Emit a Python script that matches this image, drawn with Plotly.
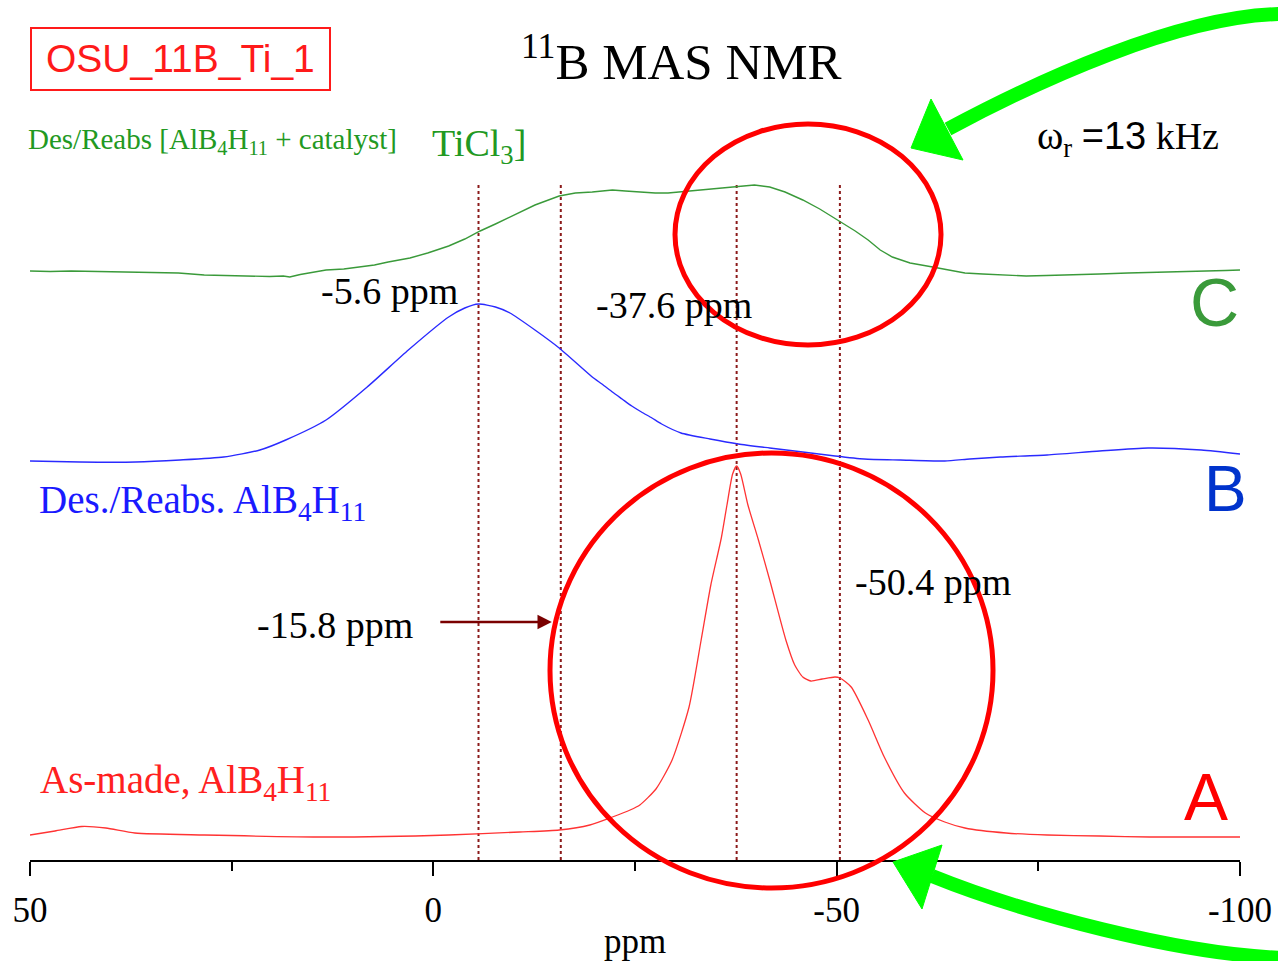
import plotly.graph_objects as go

# ---------------- data ----------------
# chemical-shift window (ppm), plotted high -> low as usual for NMR
PPM_LEFT, PPM_RIGHT = 50, -100

# A: as-made AlB4H11
ppm_a = [50.0, 46.9, 43.6, 40.6, 37.0, 28.4, 13.3, -1.9, -10.7, -15.6, -19.4, -22.2,
         -24.4, -25.6, -27.6, -29.6, -31.7, -33.2, -34.4, -35.7, -36.4, -37.1, -37.6,
         -38.1, -39.0, -40.3, -41.7, -43.7, -44.8, -45.8, -46.8, -48.2, -49.8, -50.4,
         -51.8, -53.9, -55.9, -58.4, -61.0, -63.4, -65.9, -71.0, -76.1, -82.6, -88.8, -100.0]
int_a = [0, 4, 8.5, 7, 2, 0, -2, 0, 3, 5, 10, 18,
         25, 30, 46, 75, 128, 195, 250, 297, 330, 361, 369,
         361, 330, 295, 255, 195, 170, 158, 154, 156, 158, 157,
         148, 115, 78, 42, 22, 13, 7, 2, 0, -1, -2, -2]

# B: desorbed / reabsorbed AlB4H11
ppm_b = [50.0, 43.8, 36.9, 31.4, 26.0, 21.5, 18.3, 13.3, 8.2, 3.1, -1.9, -3.9, -5.6,
         -7.7, -9.5, -12.6, -15.6, -19.7, -20.9, -22.2, -23.4, -24.6, -25.8, -27.1,
         -28.3, -30.7, -34.3, -37.8, -41.7, -45.8, -49.8, -53.4, -57.9, -63.4, -66.5,
         -70.3, -76.1, -82.6, -88.6, -95.2, -100.0]
int_b = [0, -1, -1, 1, 4, 11, 21, 41, 74, 111, 144, 153, 157,
         154, 148, 131, 113, 84, 77, 69, 62, 55, 49, 43,
         37, 28, 22, 17, 13, 9, 5, 2, 1, 0, 2,
         4, 6, 10, 13, 11, 7]

# C: desorbed / reabsorbed AlB4H11 + TiCl3 catalyst
ppm_c = [50.0, 47.5, 44.9, 41.3, 38.2, 35.1, 31.6, 28.4, 25.3, 22.4, 20.3, 18.6,
         17.8, 16.5, 13.3, 11.1, 9.1, 7.3, 5.6, 2.9, 0.7, -1.9, -3.9, -5.8, -7.7,
         -9.5, -12.6, -15.6, -17.6, -19.7, -22.2, -23.8, -25.6, -27.5, -29.1, -31.8,
         -34.3, -36.1, -37.8, -39.8, -41.7, -43.6, -45.8, -47.9, -50.3, -52.3, -53.9,
         -55.4, -56.9, -59.1, -61.9, -63.8, -65.9, -68.1, -70.3, -73.5, -76.0, -78.9,
         -82.6, -86.1, -89.4, -92.6, -94.5, -96.3, -98.2, -100.0]
int_c = [0, -0.5, 0, -0.5, -1, -1, -2, -4, -4.5, -5, -5.5, -5,
         -6, -3.5, 1, 2, 4, 6, 9, 13, 18, 25, 32, 40, 47,
         54, 66, 75, 78, 79, 81, 80, 79, 78, 78, 80,
         82, 83, 84, 86, 84, 79, 71, 62, 50, 40, 31,
         21, 14, 8, 4, 1, -2, -3, -4, -5, -4.5, -4,
         -3, -2, -1.5, -1, 0, 0, 0.5, 1]

# vertical stacking offsets of the three spectra (a.u.)
offset_a, offset_b, offset_c = 25, 399, 589

# marked chemical shifts (ppm)
peak_ppm = [-5.6, -15.8, -37.6, -50.4]

# axis ticks
major_ticks = [50, 0, -50, -100]
major_labels = ["50", "0", "-50", "-100"]
minor_ticks = [25, -25, -75]

# ---------------- figure ----------------
W, H = 1278, 961
ML, MR, MT, MB = 30, 38, 0, 101
PW, PH = W - ML - MR, H - MT - MB
Y_TOP = 860  # y-axis span in a.u.

SERIF = "Liberation Serif, Times New Roman, serif"
SANS = "Liberation Sans, Arial, sans-serif"


def px(x):
    return (x - ML) / PW


def py(y):
    return (MT + PH - y) / PH


fig = go.Figure()

fig.add_trace(go.Scatter(x=ppm_c, y=[offset_c + v for v in int_c], mode="lines",
                         line=dict(color="#3a9a3a", width=1.4), hoverinfo="skip"))
fig.add_trace(go.Scatter(x=ppm_b, y=[offset_b + v for v in int_b], mode="lines",
                         line=dict(color="#2a2aff", width=1.4, shape="spline", smoothing=0.6),
                         hoverinfo="skip"))
fig.add_trace(go.Scatter(x=ppm_a, y=[offset_a + v for v in int_a], mode="lines",
                         line=dict(color="#ff3333", width=1.3, shape="spline", smoothing=0.6),
                         hoverinfo="skip"))

shapes = []
# dotted guide lines at the marked shifts
for p in peak_ppm:
    shapes.append(dict(type="line", xref="x", yref="y", x0=p, x1=p, y0=0, y1=675,
                       line=dict(color="#8b1a1a", width=2, dash="dot"), layer="below"))

# sample-ID box
shapes.append(dict(type="rect", xref="paper", yref="paper",
                   x0=px(31), x1=px(330), y0=py(28), y1=py(90),
                   line=dict(color="#ff1a1a", width=2)))

# highlight circles
shapes.append(dict(type="circle", xref="paper", yref="paper",
                   x0=px(675), x1=px(941), y0=py(124), y1=py(345),
                   line=dict(color="#ff0000", width=5)))
shapes.append(dict(type="circle", xref="paper", yref="paper",
                   x0=px(550), x1=px(993), y0=py(453), y1=py(888),
                   line=dict(color="#ff0000", width=5)))


def bez(p0, p1, p2, p3):
    pts = [(px(a), py(b)) for a, b in (p0, p1, p2, p3)]
    return "M {},{} C {},{} {},{} {},{}".format(*[c for pt in pts for c in pt])


def tri(a, b, c):
    pts = [(px(u), py(v)) for u, v in (a, b, c)]
    return "M {},{} L {},{} L {},{} Z".format(*[c for pt in pts for c in pt])


GREEN = "#00ff00"
# curved pointer, top right
shapes.append(dict(type="path", xref="paper", yref="paper",
                   path=bez((1285, 14), (1180, 14), (1032, 84), (948, 129)),
                   line=dict(color=GREEN, width=14)))
shapes.append(dict(type="path", xref="paper", yref="paper",
                   path=tri((931, 99), (963, 160), (911, 148)),
                   fillcolor=GREEN, line=dict(color=GREEN, width=1)))
# curved pointer, bottom right
shapes.append(dict(type="path", xref="paper", yref="paper",
                   path=bez((1285, 958), (1180, 955), (1021, 912), (932, 876)),
                   line=dict(color=GREEN, width=14)))
shapes.append(dict(type="path", xref="paper", yref="paper",
                   path=tri((942, 845), (922, 909), (893, 862)),
                   fillcolor=GREEN, line=dict(color=GREEN, width=1)))

ann = []


def text(x, y, s, size, color="black", family=SERIF, xanchor="left"):
    ann.append(dict(x=px(x), y=py(y), xref="paper", yref="paper", text=s, showarrow=False,
                    xanchor=xanchor, yanchor="middle",
                    font=dict(family=family, size=size, color=color)))


text(180, 59, "OSU_11B_Ti_1", 39, "#ff1a1a", SANS, "center")
text(681, 58, "<sup>11</sup>B MAS NMR", 51, "black", SERIF, "center")
text(26, 141, "Des/Reabs [AlB<sub>4</sub>H<sub>11</sub> + catalyst]", 29, "#229922")
text(430, 146, "TiCl<sub>3</sub>]", 38, "#229922")
text(1035, 138,
     "<span style='font-size:40px'>ω</span><sub>r</sub> "
     "<span style='font-family:Liberation Sans'>=13</span> kHz", 38)
text(319, 291, "-5.6 ppm", 38)
text(594, 305, "-37.6 ppm", 38)
text(853, 582, "-50.4 ppm", 38)
text(255, 625, "-15.8 ppm", 38)
text(37, 502, "Des./Reabs. AlB<sub>4</sub>H<sub>11</sub>", 39, "#1a1aff")
text(38, 782, "As-made, AlB<sub>4</sub>H<sub>11</sub>", 39, "#ff2020")
text(1214, 302, "C", 68, "#3a9a3a", SANS, "center")
text(1225, 489, "B", 64, "#0033cc", SANS, "center")
text(1206, 797, "A", 66, "#ff0000", SANS, "center")

# arrow pointing at the -15.8 ppm line
ann.append(dict(x=-15.8, y=Y_TOP - 622, xref="x", yref="y", text="", showarrow=True,
                axref="pixel", ayref="pixel", ax=-122, ay=0, arrowhead=2, arrowsize=1.1,
                arrowwidth=2.6, arrowcolor="#7a0000", standoff=9))

fig.update_layout(
    width=W, height=H, margin=dict(l=ML, r=MR, t=MT, b=MB),
    paper_bgcolor="white", plot_bgcolor="white", showlegend=False,
    shapes=shapes, annotations=ann,
    xaxis=dict(range=[PPM_LEFT, PPM_RIGHT], showline=True, linecolor="black", linewidth=2,
               ticks="outside", ticklen=14, tickwidth=1.5, tickcolor="black",
               tickvals=major_ticks, ticktext=major_labels, ticklabelstandoff=4,
               minor=dict(tickvals=minor_ticks, ticks="outside", ticklen=9, tickwidth=1.5,
                          tickcolor="black"),
               showgrid=False, zeroline=False,
               tickfont=dict(family=SERIF, size=35, color="black"),
               title=dict(text="ppm", font=dict(family=SERIF, size=35, color="black"),
                          standoff=0)),
    yaxis=dict(range=[0, Y_TOP], visible=False, fixedrange=True),
)

fig.write_html("out.html")
